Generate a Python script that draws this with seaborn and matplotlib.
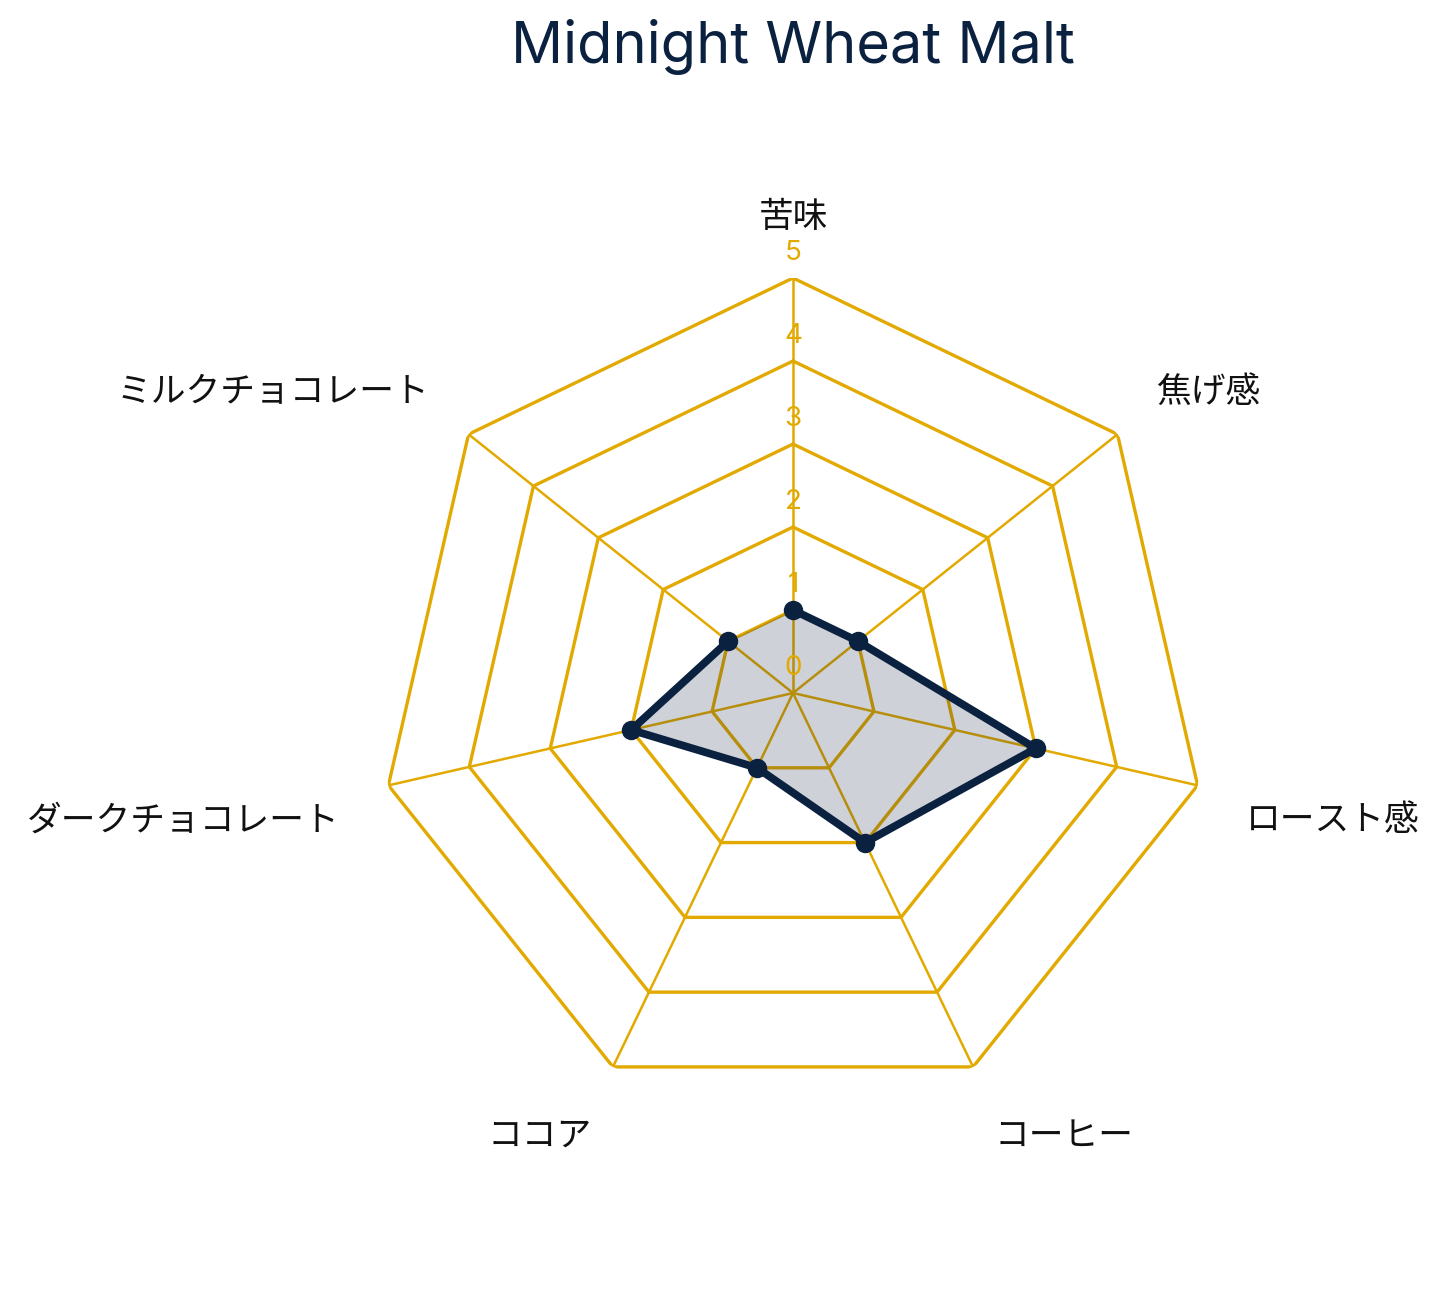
import numpy as np
import pandas as pd
import matplotlib
matplotlib.use("Agg")
import matplotlib.pyplot as plt
import seaborn as sns

# data
categories = ['苦味', '焦げ感', 'ロースト感', 'コーヒー', 'ココア', 'ダークチョコレート', 'ミルクチョコレート']
values = [1, 1, 3, 2, 1, 2, 1]
levels = [1, 2, 3, 4, 5]
tick_labels = ['0', '1', '2', '3', '4', '5']
title = 'Midnight Wheat Malt'

GOLD = '#E2A900'
NAVY = '#0B2140'

sns.set_theme(style="white")
plt.rcParams['font.family'] = ['Inter', 'Noto Sans CJK JP', 'DejaVu Sans']

fig = plt.figure(figsize=(14.45, 12.99), dpi=100)
ax = fig.add_axes([0.2616, 0.147, 0.5744, 0.639], projection='polar')
ax.set_theta_offset(np.pi / 2)
ax.set_theta_direction(-1)

n = len(categories)
angles = np.linspace(0, 2 * np.pi, n, endpoint=False)
closed = np.append(angles, angles[0])

# polygon grid and spokes
for lvl in levels:
    ax.plot(closed, [lvl] * (n + 1), color=GOLD, lw=2.4, zorder=1)
for a in angles:
    ax.plot([a, a], [0, 5], color=GOLD, lw=1.8, zorder=1)

# data
df = pd.DataFrame({'theta': closed, 'r': values + values[:1]})
ax.fill(df['theta'], df['r'], color=NAVY, alpha=0.2, lw=0, zorder=2)
sns.lineplot(data=df, x='theta', y='r', sort=False, ax=ax, color=NAVY,
             lw=5.6, marker='o', markersize=14, markeredgewidth=0, zorder=3)

ax.set_ylim(0, 5)
ax.grid(False)
ax.set_xticks([])
ax.set_yticks([])
ax.set_xlabel('')
ax.set_ylabel('')
ax.spines['polar'].set_visible(False)
ax.set_facecolor('none')

# radial tick labels along the first axis
for i, t in enumerate(tick_labels):
    ax.text(0, i + 0.3, t, ha='center', va='center', color=GOLD,
            fontsize=20, zorder=4)

# category labels
for a, lab in zip(angles, categories):
    ang = np.pi / 2 - a
    c, s = np.cos(ang), np.sin(ang)
    ha = 'left' if c > 0.1 else ('right' if c < -0.1 else 'center')
    va = 'bottom' if s > 0.5 else ('top' if s < -0.1 else 'center')
    ax.annotate(lab, xy=(a, 5.6), xytext=(0, -5), textcoords='offset points',
                ha=ha, va=va, fontsize=25, color='#111111',
                family=['Noto Sans CJK JP', 'DejaVu Sans'], annotation_clip=False)

fig.text(793 / 1445, 1 - 63 / 1299, title, ha='center', va='baseline',
         fontsize=41.5, color=NAVY)

fig.savefig('out.png', dpi=100, facecolor='white')
